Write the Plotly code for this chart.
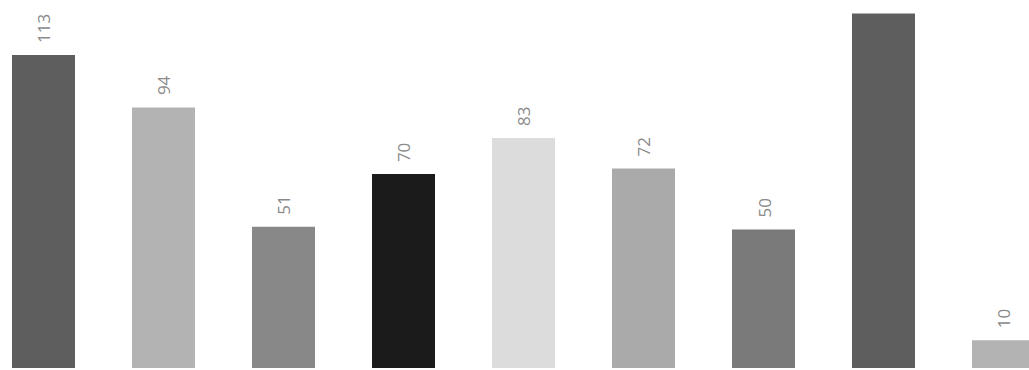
import plotly.graph_objects as go

# Category keys (axis labels are hidden), values and per-bar fill colours
categories = ["C1", "C2", "C3", "C4", "C5", "C6", "C7", "C8", "C9"]
values = [113, 94, 51, 70, 83, 72, 50, 128, 10]
colors = ["#5e5e5e", "#b3b3b3", "#888888", "#1b1b1b", "#dcdcdc",
          "#aaaaaa", "#7a7a7a", "#5e5e5e", "#b3b3b3"]

fig = go.Figure(
    go.Bar(
        x=categories,
        y=values,
        marker=dict(color=colors, line=dict(width=0)),
        width=0.525,
        hoverinfo="skip",
    )
)

# Vertical value labels sitting a little above each bar
for cat, val in zip(categories, values):
    fig.add_annotation(
        x=cat,
        y=val,
        text=str(val),
        textangle=-90,
        showarrow=False,
        xanchor="center",
        yanchor="bottom",
        yshift=10,
        font=dict(family="Open Sans, Liberation Sans, sans-serif", size=17, color="#8a8a8a"),
    )

fig.update_layout(
    width=1029,
    height=370,
    margin=dict(l=0, r=0, t=0, b=0),
    paper_bgcolor="white",
    plot_bgcolor="white",
    showlegend=False,
    xaxis=dict(visible=False, range=[-0.3625, 8.2125]),
    yaxis=dict(visible=False, range=[-0.72, 132.85]),
)

fig.write_html("out.html")
